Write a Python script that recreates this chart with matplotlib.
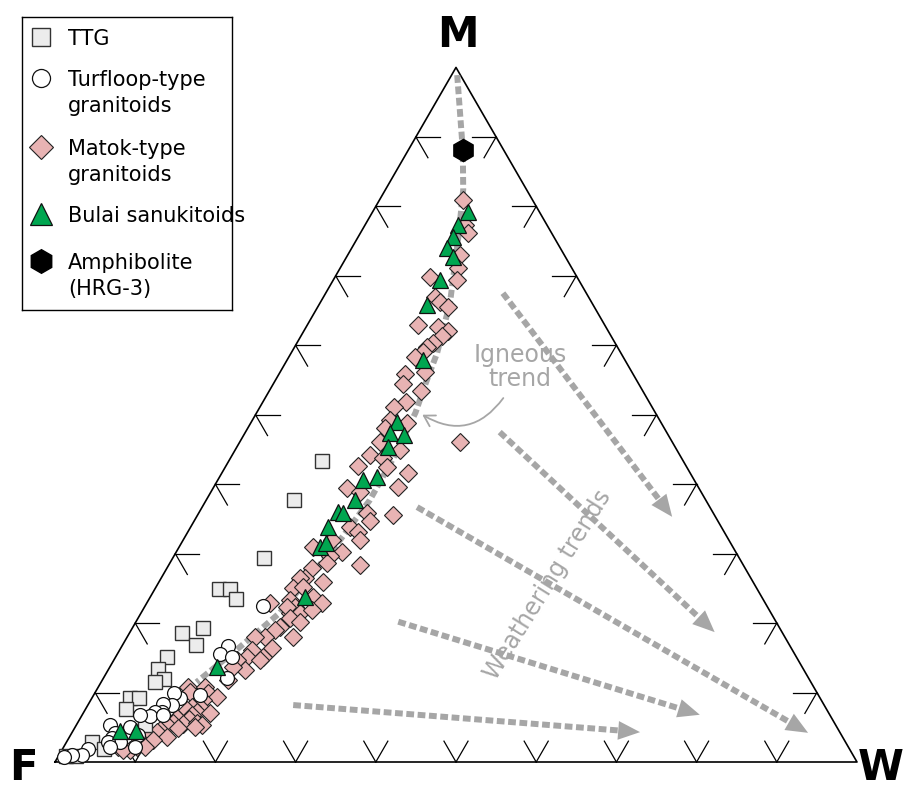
import matplotlib.pyplot as plt
import numpy as np

# Ternary values in percent: M and W (F = 100 - M - W)
ttg_m = [43.3, 37.7, 29.4, 24.9, 24.9, 23.5, 18.6, 19.3, 16.8, 15.1, 13.4,
         12.0, 11.5, 9.2, 9.2, 7.6, 5.3, 2.9, 1.9, 0.9, 0.9]
ttg_w = [11.6, 10.9, 11.4, 8.0, 9.4, 10.8, 6.5, 8.8, 9.2, 6.4, 6.1,
         7.6, 6.7, 4.7, 5.9, 5.0, 8.6, 3.2, 5.2, 0.9, 2.2]

turfloop_m = [22.5, 16.7, 15.6, 15.1, 12.1, 9.6, 9.2, 9.9, 8.2, 8.4, 7.2, 7.2,
              6.6, 6.8, 6.8, 5.3, 5.0, 4.2, 3.9, 3.5, 2.9, 2.9, 2.2, 2.2, 1.9,
              1.0, 1.0, 0.7]
turfloop_w = [14.7, 13.2, 12.8, 14.5, 15.4, 13.3, 11.0, 9.9, 10.5, 9.3, 9.7, 8.9,
              8.5, 7.2, 10.1, 4.2, 6.8, 5.4, 8.4, 5.4, 6.7, 5.2, 5.8, 8.9, 3.2,
              2.9, 1.6, 0.8]

matok_m = [80.9, 77.3, 76.2, 73.0, 71.1, 69.4, 69.8, 67.0, 66.2, 65.5,
           62.9, 62.6, 62.1, 61.3, 60.3, 59.8, 59.0, 58.3, 56.2, 55.9,
           54.4, 53.4, 51.8, 51.1, 49.2, 48.1, 48.8, 46.1, 44.9, 44.2,
           43.8, 42.6, 42.5, 41.6, 39.5, 39.6, 38.9, 35.9, 34.7, 35.6,
           33.8, 33.1, 32.0, 32.0, 30.2, 31.0, 29.7, 28.4, 27.9, 28.7,
           26.5, 25.9, 26.5, 25.1, 25.2, 23.8, 22.9, 23.3, 22.3, 21.5,
           21.5, 21.9, 22.3, 22.9, 20.7, 20.2, 19.4, 19.0, 18.0, 18.0,
           18.0, 16.4, 15.1, 16.1, 15.1, 14.7, 14.7, 13.2, 13.7, 11.8,
           10.8, 10.8, 10.1, 9.9, 9.4, 8.9, 7.9, 7.9, 7.5, 7.2,
           7.1, 6.8, 6.3, 6.2, 5.5, 5.6, 5.6, 5.3, 5.3, 4.9,
           5.0, 4.6, 4.3, 3.6, 3.6, 3.2, 3.2, 2.2, 2.2, 2.2,
           1.7, 1.7, 46.1]
matok_w = [10.4, 12.5, 13.4, 14.0, 14.7, 15.4, 11.9, 13.9, 14.9, 16.3,
           13.8, 16.5, 17.9, 17.6, 17.0, 16.5, 16.4, 15.7, 18.0, 15.7,
           16.2, 18.9, 17.9, 16.7, 17.2, 17.1, 19.5, 17.5, 20.6, 17.2,
           19.0, 16.5, 20.2, 23.2, 16.7, 23.0, 18.6, 21.0, 21.9, 24.3,
           19.9, 21.2, 22.0, 18.5, 20.7, 16.7, 19.4, 23.8, 18.1, 19.6,
           17.9, 20.5, 17.3, 17.1, 18.3, 20.3, 21.8, 17.7, 18.8, 18.6,
           19.8, 21.1, 17.8, 15.4, 19.0, 20.5, 18.4, 17.9, 20.7, 17.2,
           15.9, 18.9, 18.4, 16.5, 16.4, 18.2, 15.4, 17.1, 15.4, 15.7,
           11.2, 13.3, 11.8, 14.1, 15.5, 14.0, 14.1, 13.1, 12.7, 14.1,
           15.8, 13.7, 12.1, 13.6, 13.2, 11.9, 14.9, 15.7, 11.3, 12.9,
           15.0, 10.8, 10.6, 12.2, 9.9, 9.0, 10.6, 9.1, 10.1, 6.8,
           8.5, 7.6, 27.4]

bulai_m = [79.2, 77.3, 75.6, 74.0, 72.7, 69.4, 65.8, 57.9, 49.0, 47.4, 47.1, 45.4,
           41.0, 40.6, 37.7, 36.0, 35.9, 33.8, 31.0, 31.5, 23.8, 13.7, 4.5, 4.5]
bulai_w = [11.9, 11.6, 11.8, 11.9, 13.3, 13.3, 13.5, 16.9, 18.1, 18.1, 20.0, 18.8,
           19.6, 18.1, 18.6, 17.3, 18.0, 17.1, 17.5, 18.0, 19.3, 13.4, 5.9, 7.9]

amph_m = [88.1]
amph_w = [6.8]

# igneous trend curve
igneous_m = [98.9, 88.1, 82.4, 75.6, 66.1, 58.9, 54.3, 50.3, 44.2, 37.7, 31.5, 21.5, 16.6, 11.5]
igneous_w = [0.7, 6.8, 9.7, 12.5, 16.2, 18.2, 19.0, 19.8, 20.3, 20.4, 19.5, 17.3, 14.8, 11.9]

# weathering trend arrows: start (M, W) -> end (M, W)
weather_start_m = [67.5, 47.5, 36.7, 20.2, 8.2]
weather_start_w = [22.1, 31.7, 26.8, 32.7, 25.6]
weather_end_m = [35.3, 18.7, 4.2, 6.8, 4.3]
weather_end_w = [59.3, 72.9, 91.8, 77.0, 70.8]

GREY = '#a6a6a6'
S3 = np.sqrt(3) / 2


def tern(m, w):
    m = np.asarray(m, dtype=float) / 100.0
    w = np.asarray(w, dtype=float) / 100.0
    return w + m / 2, m * S3


fig = plt.figure(figsize=(9.04, 7.87), dpi=100)
ax = fig.add_axes([0, 0, 1, 1])
ax.set_xlim(-55 / 802, 849 / 802)
ax.set_ylim(-25 / 802, 762 / 802)
ax.axis('off')

# triangle frame
tx, ty = tern([0, 0, 100, 0], [0, 100, 0, 0])
ax.plot(tx, ty, color='black', lw=1.2, zorder=2)

# ticks
L = 0.03
for k in range(1, 10):
    f = k / 10
    p = np.array([f, 0.0])
    for d in [(-0.5, S3), (0.5, S3)]:
        q = p + L * np.array(d)
        ax.plot([p[0], q[0]], [p[1], q[1]], color='black', lw=0.9, zorder=2)
    p = np.array([0.5 * f, S3 * f])
    for d in [(1, 0), (0.5, -S3)]:
        q = p + L * np.array(d)
        ax.plot([p[0], q[0]], [p[1], q[1]], color='black', lw=0.9, zorder=2)
    p = np.array([1 - 0.5 * f, S3 * f])
    for d in [(-1, 0), (-0.5, -S3)]:
        q = p + L * np.array(d)
        ax.plot([p[0], q[0]], [p[1], q[1]], color='black', lw=0.9, zorder=2)

dots = (0, (1.3, 0.6))

# igneous trend
ix, iy = tern(igneous_m, igneous_w)
ax.plot(ix, iy, color=GREY, lw=4.3, ls=dots, solid_capstyle='butt', zorder=3)

# weathering trends
sx, sy = tern(weather_start_m, weather_start_w)
ex, ey = tern(weather_end_m, weather_end_w)
for x0, y0, x1, y1 in zip(sx, sy, ex, ey):
    d = np.array([x1 - x0, y1 - y0])
    d = d / np.hypot(*d)
    stop = np.array([x1, y1]) - 0.02 * d
    ax.plot([x0, stop[0]], [y0, stop[1]], color=GREY, lw=4.3, ls=dots, zorder=3)
    back = np.array([x1, y1]) - 0.04 * d
    ax.annotate('', xy=(x1, y1), xytext=tuple(back),
                arrowprops=dict(arrowstyle='-|>,head_length=1.05,head_width=0.45',
                                mutation_scale=15, color=GREY, lw=0,
                                shrinkA=0, shrinkB=0), zorder=3)

# labels for trends
tx0, ty0 = tern([56.9], [29.5])
ax.text(tx0[0], ty0[0], 'Igneous\ntrend', color=GREY, fontsize=17, ha='center',
        va='center', linespacing=1.0, zorder=3)
a0x, a0y = tern([52.4], [29.7])
a1x, a1y = tern([50.0], [20.8])
ax.annotate('', xy=(a1x[0], a1y[0]), xytext=(a0x[0], a0y[0]),
            arrowprops=dict(arrowstyle='->,head_length=0.5,head_width=0.3',
                            color=GREY, lw=1.3, shrinkA=0, shrinkB=0,
                            connectionstyle='arc3,rad=-0.45',
                            mutation_scale=15), zorder=3)
wx, wy = tern([25.5], [48.7])
ax.text(wx[0], wy[0], 'Weathering trends', color=GREY, fontsize=17, rotation=58,
        ha='center', va='center', rotation_mode='anchor', zorder=3)

# data
x, y = tern(matok_m, matok_w)
ax.plot(x, y, 'D', ms=9, mfc='#e8b3b3', mec='#222222', mew=0.8, ls='none', zorder=4)
x, y = tern(ttg_m, ttg_w)
ax.plot(x, y, 's', ms=9.5, mfc='#ececec', mec='#333333', mew=1.0, ls='none', zorder=5)
x, y = tern(turfloop_m, turfloop_w)
ax.plot(x, y, 'o', ms=10, mfc='white', mec='#111111', mew=0.9, ls='none', zorder=6)
x, y = tern(bulai_m, bulai_w)
ax.plot(x, y, '^', ms=11.5, mfc='#00a650', mec='#111111', mew=0.9, ls='none', zorder=7)
x, y = tern(amph_m, amph_w)
ax.plot(x, y, 'h', ms=16, mfc='black', mec='black', ls='none', zorder=8)

# corner labels
ax.text(0.5025, 0.907, 'M', fontsize=30, fontweight='bold', ha='center', va='center')
ax.text(-0.04, -0.007, 'F', fontsize=30, fontweight='bold', ha='center', va='center')
ax.text(1.03, -0.007, 'W', fontsize=30, fontweight='bold', ha='center', va='center')

# legend
lax = fig.add_axes([22 / 904, 1 - 310 / 787, 210 / 904, 293 / 787])
lax.set_xlim(0, 210)
lax.set_ylim(293, 0)
lax.set_xticks([])
lax.set_yticks([])
for s in lax.spines.values():
    s.set_linewidth(1.0)

legend_labels = ['TTG', 'Turfloop-type\ngranitoids', 'Matok-type\ngranitoids',
                 'Bulai sanukitoids', 'Amphibolite\n(HRG-3)']
legend_y = [20, 61, 130, 197, 244]
styles = [dict(marker='s', ms=13, mfc='#ececec', mec='#333333', mew=1.0),
          dict(marker='o', ms=13, mfc='white', mec='#111111', mew=0.9),
          dict(marker='D', ms=12, mfc='#e8b3b3', mec='#222222', mew=0.8),
          dict(marker='^', ms=16, mfc='#00a650', mec='#111111', mew=0.9),
          dict(marker='h', ms=17, mfc='black', mec='black')]
for lab, yy, st in zip(legend_labels, legend_y, styles):
    lax.plot([19], [yy], ls='none', **st)
    for i, line in enumerate(lab.split('\n')):
        lax.text(46, yy + i * 26, line, fontsize=15, va='center_baseline', ha='left')

fig.savefig('out.png', dpi=100)
